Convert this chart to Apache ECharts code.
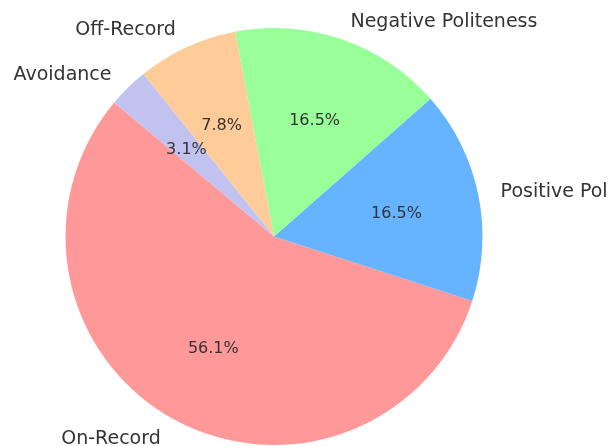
<!DOCTYPE html>
<html>
<head>
<meta charset="utf-8">
<script src="https://cdn.jsdelivr.net/npm/echarts@6/dist/echarts.min.js"></script>
<style>
  html, body { margin: 0; padding: 0; background: #ffffff; }
  #chart { width: 608px; height: 446px; }
</style>
</head>
<body>
<div id="chart"></div>
<script>
// Politeness strategy shares (percent)
const categories = ['On-Record', 'Positive Politeness', 'Negative Politeness', 'Off-Record', 'Avoidance'];
const shares = [56.1, 16.5, 16.5, 7.8, 3.1];
const sliceColors = ['#ff9999', '#66b3ff', '#99ff99', '#ffcc99', '#c2c2f0'];

const CX = 274, CY = 236.5, R = 208.5;

const pieData = categories.map((name, i) => ({
  name: name,
  value: shares[i],
  itemStyle: { color: sliceColors[i] }
}));

const chart = echarts.init(document.getElementById('chart'), null, { renderer: 'canvas' });

chart.setOption({
  animation: false,
  backgroundColor: '#ffffff',
  series: [
    {
      // wedges with category names just outside the rim
      type: 'pie',
      center: [CX, CY],
      radius: [0, R],
      startAngle: 140,
      clockwise: false,
      avoidLabelOverlap: false,
      silent: true,
      itemStyle: { borderWidth: 0 },
      label: {
        show: true,
        position: 'outside',
        formatter: '{b}',
        color: '#333333',
        fontFamily: 'DejaVu Sans',
        fontSize: 19,
        distanceToLabelLine: 2,
        offset: [0, 2]
      },
      labelLine: { show: false, length: R * 0.1, length2: 0 },
      data: pieData
    },
    {
      // transparent ring used only to place the percentage texts at 0.6 R
      type: 'pie',
      center: [CX, CY],
      radius: [R * 0.2 - 6, R],
      startAngle: 140,
      clockwise: false,
      avoidLabelOverlap: false,
      silent: true,
      itemStyle: { color: 'rgba(0,0,0,0)', borderWidth: 0 },
      label: {
        show: true,
        position: 'inside',
        formatter: (p) => p.value.toFixed(1) + '%',
        color: '#333333',
        fontFamily: 'DejaVu Sans',
        fontSize: 16,
        offset: [0, 3]
      },
      labelLine: { show: false },
      data: categories.map((name, i) => ({ name: name, value: shares[i] }))
    }
  ]
});
</script>
</body>
</html>
